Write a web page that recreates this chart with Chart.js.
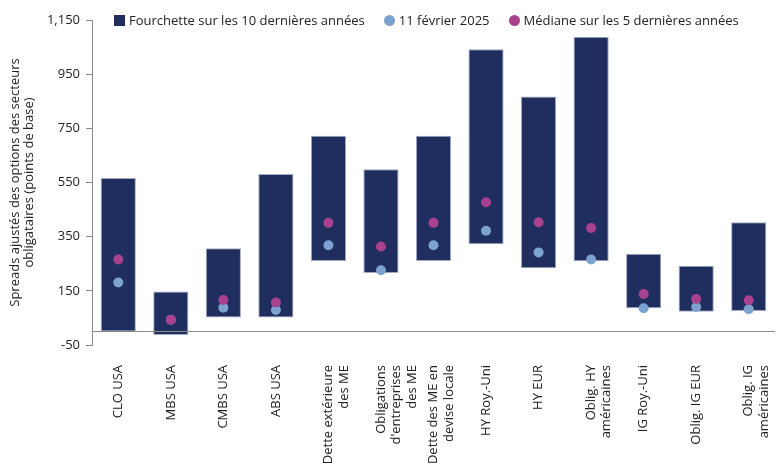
<!DOCTYPE html>
<html lang="fr">
<head>
<meta charset="utf-8">
<script src="https://cdn.jsdelivr.net/npm/chart.js@4"></script>
<style>
  html, body { margin: 0; padding: 0; background: #fff; }
  #wrap { position: relative; width: 780px; height: 465px; }
  #legend {
    position: absolute; top: 11px; left: 114px;
    display: flex; align-items: center;
    font: 13px 'Open Sans', sans-serif; color: #222; white-space: nowrap;
  }
  #legend .item { display: flex; align-items: center; margin-right: 19px; }
  #legend .sw { width: 11px; height: 11px; margin-right: 4px; }
  #legend .dot { border-radius: 50%; }
</style>
</head>
<body>
<div id="wrap">
  <canvas id="chart" width="780" height="465"></canvas>
  <div id="legend"></div>
</div>
<script>
// categories (multi-line labels as arrays)
const categories = [
  'CLO USA',
  'MBS USA',
  'CMBS USA',
  'ABS USA',
  ['Dette extérieure', 'des ME'],
  ['Obligations', "d'entreprises", 'des ME'],
  ['Dette des ME en', 'devise locale'],
  'HY Roy.-Uni',
  'HY EUR',
  ['Oblig. HY', 'américaines'],
  'IG Roy.-Uni',
  'Oblig. IG EUR',
  ['Oblig. IG', 'américaines']
];

// 10-year range, low / high (bps)
const rangeLow  = [0, -13, 52, 52, 260, 216, 260, 322, 233, 259, 86, 73, 76];
const rangeHigh = [567, 148, 307, 581, 723, 599, 723, 1042, 868, 1088, 287, 243, 403];
// 11 Feb 2025
const current = [181, 43, 88, 79, 318, 226, 318, 372, 292, 266, 86, 90, 82];
// 5-year median
const median  = [266, 43, 116, 107, 401, 314, 401, 477, 403, 382, 138, 120, 115];

const yTicks = [-50, 150, 350, 550, 750, 950, 1150];

const seriesNames = [
  'Fourchette sur les 10 dernières années',
  '11 février 2025',
  'Médiane sur les 5 dernières années'
];

const NAVY = '#1f2e5e';
const LIGHTBLUE = '#7ca2d0';
const MAGENTA = '#a8428e';
const AXIS = '#8a8a8a';

Chart.defaults.font.family = "'Open Sans', sans-serif";
Chart.defaults.font.size = 13;
Chart.defaults.color = '#222';

// horizontal axis line sits at y = 0, not at the bottom of the plot
const zeroLine = {
  id: 'zeroLine',
  afterDatasetsDraw(chart) {
    const { ctx, chartArea, scales } = chart;
    const y = Math.round(scales.y.getPixelForValue(0)) + 0.5;
    ctx.save();
    ctx.strokeStyle = AXIS;
    ctx.lineWidth = 1;
    ctx.beginPath();
    ctx.moveTo(chartArea.left, y);
    ctx.lineTo(chartArea.right, y);
    ctx.stroke();
    ctx.restore();
  }
};

new Chart(document.getElementById('chart'), {
  type: 'bar',
  data: {
    labels: categories,
    datasets: [
      {
        type: 'line',
        label: seriesNames[2],
        data: median,
        showLine: false,
        pointRadius: 5,
        pointBackgroundColor: MAGENTA,
        pointBorderWidth: 0,
        order: 0
      },
      {
        type: 'line',
        label: seriesNames[1],
        data: current,
        showLine: false,
        pointRadius: 5,
        pointBackgroundColor: LIGHTBLUE,
        pointBorderWidth: 0,
        order: 1
      },
      {
        label: seriesNames[0],
        data: rangeLow.map((lo, i) => [lo, rangeHigh[i]]),
        backgroundColor: NAVY,
        borderColor: '#a3aac2',
        borderWidth: 1,
        borderSkipped: false,
        barPercentage: 0.67,
        categoryPercentage: 1,
        order: 2
      }
    ]
  },
  options: {
    responsive: false,
    animation: false,
    layout: { padding: { top: 20, right: 5, bottom: 0, left: 0 } },
    plugins: {
      legend: { display: false },
      tooltip: { enabled: false }
    },
    scales: {
      x: {
        grid: { display: false },
        border: { display: false },
        ticks: { maxRotation: 90, minRotation: 90, padding: 12, autoSkip: false, color: '#222' },
        afterFit: s => { s.height = 120; s.paddingLeft = 0; s.paddingRight = 0; }
      },
      y: {
        min: -50,
        max: 1150,
        afterBuildTicks: s => { s.ticks = yTicks.map(v => ({ value: v })); },
        ticks: {
          padding: 6,
          color: '#222',
          callback: v => v.toLocaleString('en-US')
        },
        grid: { drawOnChartArea: false, drawTicks: true, tickLength: 6, color: AXIS },
        border: { display: true, color: AXIS },
        title: {
          display: true,
          text: ['Spreads ajustés des options des secteurs', 'obligataires (points de base)'],
          color: '#222',
          font: { size: 13, lineHeight: 1.1 },
          padding: { top: 8, bottom: 0 }
        },
        afterFit: s => { s.width = 92; }
      }
    }
  },
  plugins: [zeroLine]
});

// legend (placed inside the plot area, like the original)
const legendEl = document.getElementById('legend');
const swatches = [
  { color: NAVY, dot: false },
  { color: LIGHTBLUE, dot: true },
  { color: MAGENTA, dot: true }
];
seriesNames.forEach((name, i) => {
  const item = document.createElement('div');
  item.className = 'item';
  const sw = document.createElement('span');
  sw.className = 'sw' + (swatches[i].dot ? ' dot' : '');
  sw.style.background = swatches[i].color;
  const txt = document.createElement('span');
  txt.textContent = name;
  item.appendChild(sw);
  item.appendChild(txt);
  legendEl.appendChild(item);
});
</script>
</body>
</html>
